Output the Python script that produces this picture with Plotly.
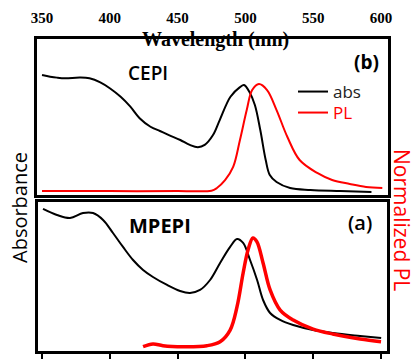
import plotly.graph_objects as go

# ---------------- data ----------------
# panel (b) CEPI
abs_b_wl = [350, 356, 361, 367, 378, 385, 393, 400, 408, 415, 422, 430, 437, 444, 452, 459, 465,
            470, 476, 481, 489, 496, 499, 503, 507, 511, 515, 518, 523, 533, 548, 570, 593]
abs_b = [1.093, 1.078, 1.069, 1.063, 1.070, 1.063, 1.025, 0.97, 0.89, 0.80, 0.69, 0.61, 0.57, 0.53,
         0.486, 0.44, 0.418, 0.44, 0.53, 0.67, 0.89, 0.98, 1.0, 0.935, 0.813, 0.579, 0.299, 0.159,
         0.093, 0.037, 0.019, 0.009, 0.0]
pl_b_wl = [350, 380, 420, 450, 475, 479, 485, 491, 496, 501, 505, 510, 516, 523, 531, 540, 553,
           564, 577, 589, 601]
pl_b = [0.009, 0.010, 0.008, 0.010, 0.012, 0.037, 0.11, 0.234, 0.486, 0.766, 0.953, 1.009, 0.953,
        0.766, 0.514, 0.299, 0.178, 0.112, 0.075, 0.047, 0.037]

# panel (a) MPEPI
abs_a_wl = [350.7, 361, 370.6, 380.2, 387.6, 395, 402.3, 409.7, 417.1, 424.5, 431.8, 442.2, 451.8,
            459.1, 466.5, 473.9, 481.3, 488.7, 493.8, 498.3, 503.4, 508.6, 513, 518.2, 525.6, 535.2,
            549.9, 564.7, 584.6, 600.1]
abs_a = [1.269, 1.213, 1.185, 1.231, 1.231, 1.167, 1.046, 0.917, 0.796, 0.704, 0.639, 0.565, 0.509,
         0.491, 0.519, 0.611, 0.769, 0.917, 0.991, 0.954, 0.796, 0.611, 0.426, 0.306, 0.241, 0.194,
         0.148, 0.120, 0.093, 0.074]
pl_a_wl = [424.5, 431.8, 439.2, 453.9, 471.6, 481.3, 488.7, 493.8, 498.3, 501.9, 505.5, 508.4, 513,
           518.2, 525.6, 535.2, 549.9, 564.4, 584.6, 600]
pl_a = [-0.006, 0.019, 0.003, -0.006, 0.003, 0.04, 0.148, 0.364, 0.676, 0.889, 1.0, 0.966, 0.769,
        0.519, 0.333, 0.241, 0.157, 0.111, 0.065, 0.04]

wl_ticks = [350, 400, 450, 500, 550, 600]
wl_ticklabels = ["350", "400", "450", "500", "550", "600"]

# ---------------- figure ----------------
W, H = 416, 359
def fx(p):
    return p / W
def fy(p):
    return 1 - p / H

RED = "#ff0000"
fig = go.Figure()

fig.add_trace(go.Scatter(x=abs_b_wl, y=abs_b, mode="lines", line=dict(color="black", width=2, shape="spline"),
                         name="abs", legend="legend", xaxis="x2", yaxis="y2"))
fig.add_trace(go.Scatter(x=pl_b_wl, y=pl_b, mode="lines", line=dict(color=RED, width=2, shape="spline"),
                         name="PL", legend="legend2", xaxis="x2", yaxis="y2"))
fig.add_trace(go.Scatter(x=abs_a_wl, y=abs_a, mode="lines", line=dict(color="black", width=2, shape="spline"),
                         showlegend=False, xaxis="x", yaxis="y"))
fig.add_trace(go.Scatter(x=pl_a_wl, y=pl_a, mode="lines", line=dict(color=RED, width=3.5, shape="spline"),
                         showlegend=False, xaxis="x", yaxis="y"))

frame = dict(showline=True, mirror=True, linecolor="black", linewidth=2.5, showgrid=False,
             zeroline=False, automargin=False)

leg_common = dict(xanchor="left", yanchor="top", bgcolor="rgba(0,0,0,0)", itemwidth=30)

fig.update_layout(
    width=W, height=H,
    margin=dict(l=0, r=0, t=0, b=0, pad=0),
    paper_bgcolor="white", plot_bgcolor="white",
    xaxis=dict(domain=[fx(38), fx(387)], range=[347, 604.4], anchor="y",
               tickvals=wl_ticks, showticklabels=False, ticks="outside", ticklen=8, tickwidth=2,
               tickcolor="black", **frame),
    yaxis=dict(domain=[fy(351), fy(202)], range=[-0.046, 1.333], anchor="x",
               showticklabels=False, ticks="", **frame),
    xaxis2=dict(domain=[fx(37), fx(388)], range=[346.3, 605.2], anchor="y2", side="top",
                tickvals=wl_ticks, ticktext=wl_ticklabels, ticks="", ticklabelstandoff=7,
                tickfont=dict(family="Liberation Serif", size=15, color="black", weight="bold"), **frame),
    yaxis2=dict(domain=[fy(195), fy(39)], range=[-0.028, 1.43], anchor="x2",
                showticklabels=False, ticks="", **frame),
    showlegend=True,
    legend=dict(x=fx(293), y=fy(74), font=dict(family="Open Sans", size=17, color="#222222"), **leg_common),
    legend2=dict(x=fx(293), y=fy(95), font=dict(family="Open Sans", size=17, color=RED), **leg_common),
    font=dict(family="Open Sans"),
)

ann = [
    dict(text="Wavelength (nm)", x=fx(215), y=fy(40), font=dict(family="Liberation Serif", size=20,
         color="black", weight="bold")),
    dict(text="Absorbance", x=fx(19), y=fy(208), textangle=-90, font=dict(size=20, color="black")),
    dict(text="Normalized PL", x=fx(402), y=fy(220), textangle=90, font=dict(size=21, color=RED)),
    dict(text="CEPI", x=fx(148), y=fy(73), font=dict(size=19, color="black", weight=600)),
    dict(text="MPEPI", x=fx(160), y=fy(225), font=dict(size=20, color="black", weight="bold")),
    dict(text="(b)", x=fx(366), y=fy(62), font=dict(size=19, color="black", weight="bold")),
    dict(text="(a)", x=fx(360), y=fy(223), font=dict(size=20, color="black", weight=600)),
]
for a in ann:
    a.update(xref="paper", yref="paper", showarrow=False, xanchor="center", yanchor="middle")
fig.update_layout(annotations=ann)

fig.write_html("out.html", config={"displayModeBar": False},
               post_script="document.body.style.margin='0';")
